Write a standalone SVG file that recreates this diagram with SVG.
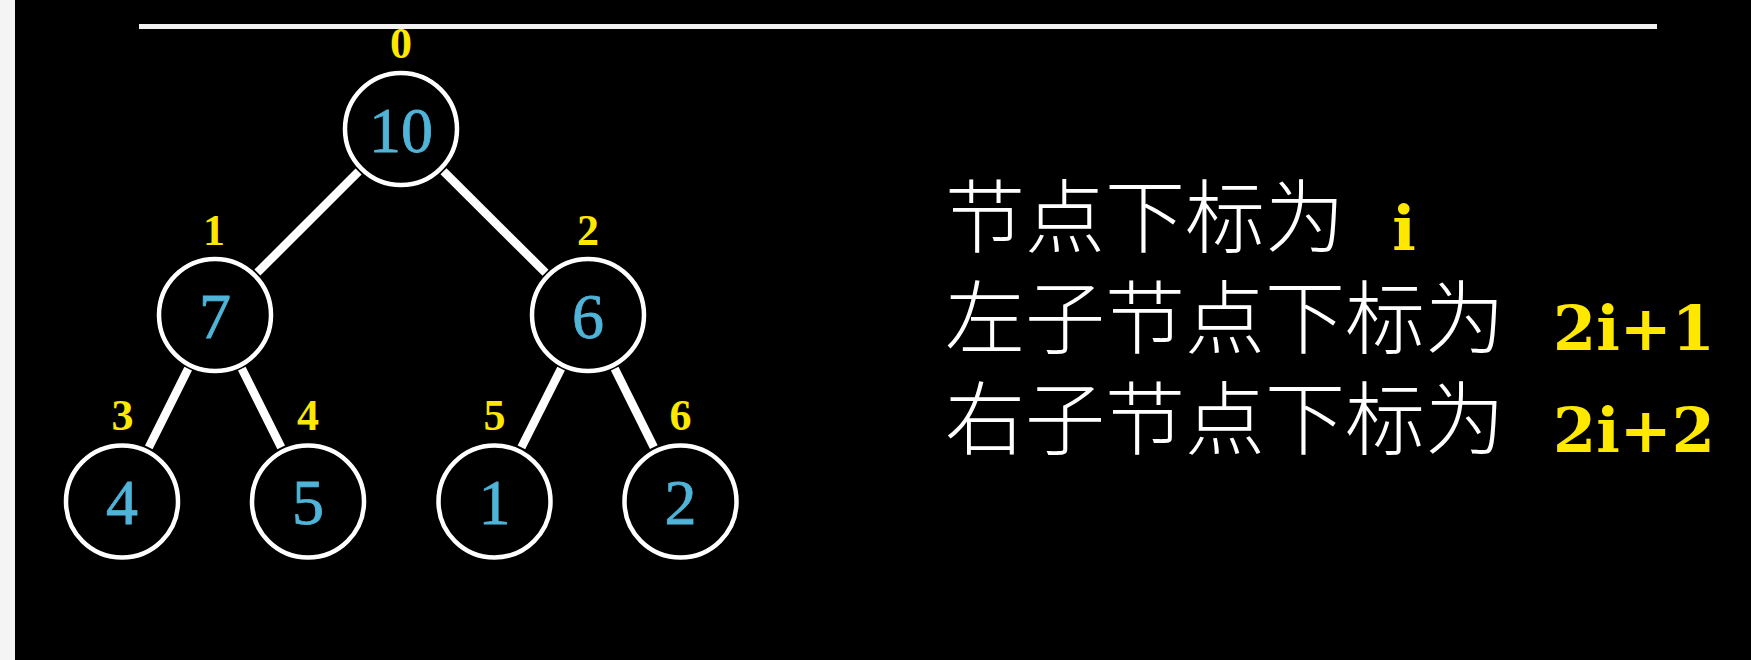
<svg xmlns="http://www.w3.org/2000/svg" width="1751" height="660" viewBox="0 0 1751 660">
  <style>
    .node circle { fill: #000; stroke: #fff; stroke-width: 4.5; }
    .val { font-family: "Liberation Serif", "DejaVu Serif", serif; font-size: 64px; fill: #4fb4d8; stroke: #4fb4d8; stroke-width: 0.8; text-anchor: middle; }
    .idx { font-family: "Liberation Serif", "DejaVu Serif", serif; font-size: 44px; font-weight: bold; fill: #ffe800; text-anchor: middle; }
    .edge { stroke: #fff; stroke-width: 8.5; stroke-linecap: butt; }
    .cn { font-family: "Noto Sans CJK SC", sans-serif; font-size: 80px; font-weight: 300; fill: #fff; }
    .formula { font-family: "DejaVu Serif", "Liberation Serif", serif; font-size: 62px; font-weight: bold; fill: #ffe800; }
  </style>
  <rect x="0" y="0" width="1751" height="660" fill="#000"/>
  <rect x="0" y="0" width="15" height="660" fill="#f4f4f4"/>
  <line x1="139" y1="26.5" x2="1657" y2="26.5" stroke="#f2f2f2" stroke-width="5"/>

  <g id="connectors">
    <line class="edge" x1="358.6" y1="171.4" x2="257.4" y2="272.6"/>
    <line class="edge" x1="443.5" y1="171.3" x2="545.5" y2="272.7"/>
    <line class="edge" x1="188.2" y1="368.7" x2="148.8" y2="447.3"/>
    <line class="edge" x1="241.8" y1="368.7" x2="281.2" y2="447.3"/>
    <line class="edge" x1="561.1" y1="368.6" x2="521.4" y2="447.4"/>
    <line class="edge" x1="614.7" y1="368.7" x2="653.8" y2="447.2"/>
  </g>

  <g id="node0" class="node">
    <text class="idx" x="401" y="58">0</text>
    <circle cx="401" cy="129" r="56"/>
    <text class="val" x="401" y="152">10</text>
  </g>
  <g id="node1" class="node">
    <text class="idx" x="214" y="245">1</text>
    <circle cx="215" cy="315" r="56"/>
    <text class="val" x="215" y="338">7</text>
  </g>
  <g id="node2" class="node">
    <text class="idx" x="588" y="245">2</text>
    <circle cx="588" cy="315" r="56"/>
    <text class="val" x="588" y="338">6</text>
  </g>
  <g id="node3" class="node">
    <text class="idx" x="122.5" y="430">3</text>
    <circle cx="122" cy="501.5" r="56"/>
    <text class="val" x="122" y="523.5">4</text>
  </g>
  <g id="node4" class="node">
    <text class="idx" x="308" y="430">4</text>
    <circle cx="308" cy="501.5" r="56"/>
    <text class="val" x="308" y="523.5">5</text>
  </g>
  <g id="node5" class="node">
    <text class="idx" x="494.5" y="430">5</text>
    <circle cx="494.5" cy="501.5" r="56"/>
    <text class="val" x="494.5" y="523.5">1</text>
  </g>
  <g id="node6" class="node">
    <text class="idx" x="680.5" y="430">6</text>
    <circle cx="680.5" cy="501.5" r="56"/>
    <text class="val" x="680.5" y="523.5">2</text>
  </g>

  <g id="rules">
    <text class="cn" x="945" y="246">节点下标为</text>
    <text class="formula" x="1404" y="250" text-anchor="middle">i</text>
    <text class="cn" x="945" y="347">左子节点下标为</text>
    <text class="formula" x="1553" y="350">2i+1</text>
    <text class="cn" x="945" y="448">右子节点下标为</text>
    <text class="formula" x="1553" y="452">2i+2</text>
  </g>
</svg>
